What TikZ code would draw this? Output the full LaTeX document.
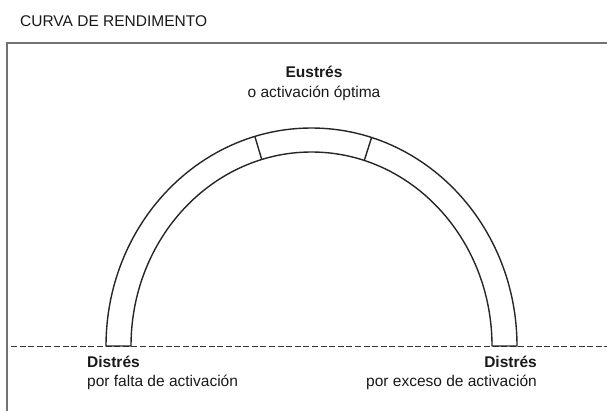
\documentclass[tikz,border=0pt]{standalone}
\usepackage{fontspec}
\setmainfont{Liberation Sans}
\usetikzlibrary{calc,positioning}

\begin{document}
\begin{tikzpicture}[
    x=1pt, y=1pt,
    font=\fontsize{15.5}{19}\selectfont,
    labeltext/.style={
        inner sep=0pt,
        text=black!90
    },
    archline/.style={draw=black!85, line width=1.4pt, line join=round},
    frameline/.style={draw=black!55, line width=2pt},
    groundline/.style={draw=black!80, line width=1pt, dash pattern=on 6pt off 2.6pt}
]
\useasboundingbox (0,0) rectangle (607,-410);
% marco y linea base
\draw[frameline] (7,-412) -- (7,-43) -- (609,-43);
\draw[groundline] (11,-346) -- (609,-346);
% arco de rendimiento
\coordinate (centro) at (311.5,-346);
\draw[archline] (106,-346) arc[start angle=180, end angle=0, x radius=205.5, y radius=218]
    -- (492,-346) arc[start angle=0, end angle=180, x radius=180.5, y radius=194] -- cycle;
\draw[archline] ($(centro)+(106:205.5pt and 218pt)$) -- ($(centro)+(106:180.5pt and 194pt)$);
\draw[archline] ($(centro)+(73:205.5pt and 218pt)$) -- ($(centro)+(73:180.5pt and 194pt)$);
% textos
\node[labeltext, anchor=base west] (titulo) at (20,-26) {CURVA DE RENDIMENTO};
\node[labeltext, anchor=base] (eustres) at (314,-77) {\textbf{Eustrés}};
\node[labeltext, anchor=base] (optima) at ([yshift=-20pt]eustres.base) {o activación óptima};
\node[labeltext, anchor=base west] (distresfalta) at (87,-367) {\textbf{Distrés}};
\node[labeltext, anchor=base west] (falta) at ([yshift=-19pt]distresfalta.base west) {por falta de activación};
\node[labeltext, anchor=base east] (distresexceso) at (537,-367) {\textbf{Distrés}};
\node[labeltext, anchor=base east] (exceso) at ([yshift=-19pt]distresexceso.base east) {por exceso de activación};
\end{tikzpicture}
\end{document}
